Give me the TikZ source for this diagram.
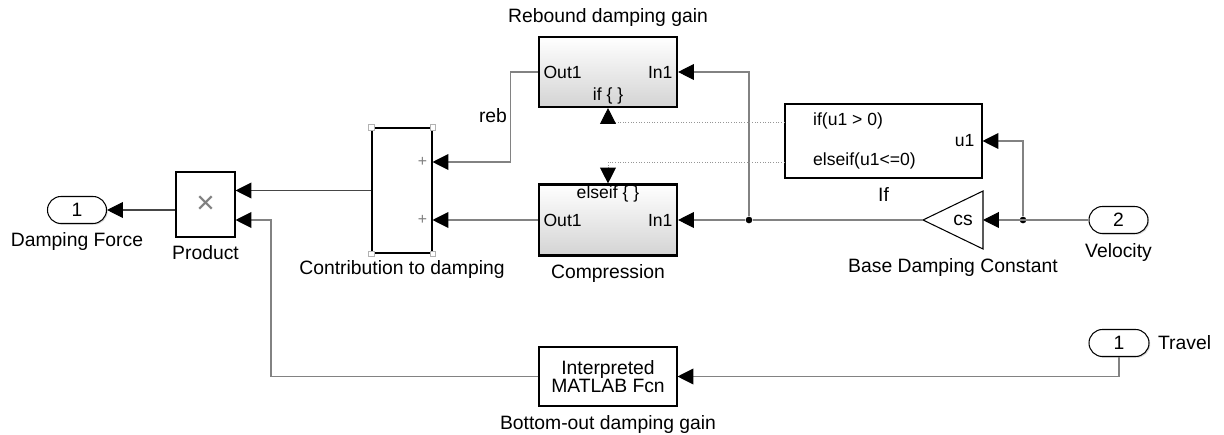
\documentclass[tikz,border=0pt]{standalone}
\usepackage{fontspec}
\setmainfont{Liberation Sans}
\definecolor{SimLine}{RGB}{130,130,130}
\definecolor{SimDark}{RGB}{70,70,70}
\definecolor{SimDot}{RGB}{150,150,150}
\usetikzlibrary{
    arrows.meta,
    positioning,
    shadows,
}

\begin{document}
\begin{tikzpicture}[
        block/.style={rectangle, draw=black, fill=white, line width=0.6pt, inner sep=0pt, drop shadow={shadow xshift=0.7pt, shadow yshift=-0.7pt, opacity=0.3}},
        subsys/.style={rectangle, draw=black, line width=1.2pt, top color=white, bottom color=black!17, minimum width=2.76cm, minimum height=1.42cm, drop shadow={shadow xshift=0.8pt, shadow yshift=-0.8pt, opacity=0.35}},
        pill/.style={rectangle, rounded corners=0.27cm, draw=black, fill=white, line width=0.6pt, minimum width=1.18cm, minimum height=0.54cm, font=\fontsize{11}{12}\selectfont, drop shadow={shadow xshift=0.7pt, shadow yshift=-0.7pt, opacity=0.3}},
        lbl/.style={font=\fontsize{11}{11}\selectfont, inner sep=1pt},
        port/.style={font=\fontsize{10}{11}\selectfont, inner sep=3pt},
        sig/.style={draw=SimLine, line width=0.6pt},
        arr/.style={-{Triangle[length=9pt, width=9pt, color=black]}},
        ctl/.style={draw=SimDot, densely dotted, line width=0.5pt},
        dot/.style={circle, fill=black, inner sep=0pt, minimum size=3.8pt},
        handle/.style={rectangle, draw=black!30, fill=white, line width=0.4pt, minimum size=3pt, inner sep=0pt},
    ]
        \path[use as bounding box, fill=white] (0,0) rectangle (24.48,-8.7);

        \node[pill] (df) at (1.54,-4.2) {1};
        \node[lbl, below=0.13cm of df] {Damping Force};

        \node[block, minimum width=1.18cm, minimum height=1.3cm, font=\fontsize{18}{18}\selectfont, text=black!50] (prod) at (4.11,-4.09) {×};
        \node[lbl, below=0.12cm of prod] {Product};

        \node[block, minimum width=1.2cm, minimum height=2.5cm, drop shadow={opacity=0}] (sum) at (8.04,-3.81) {};
        \foreach \c in {north west, north east, south west, south east}
            \node[handle] at (sum.\c) {};
        \node[font=\fontsize{9}{9}\selectfont, text=black!50] (plusA) at (8.45,-3.24) {+};
        \node[font=\fontsize{9}{9}\selectfont, text=black!50] (plusB) at (8.45,-4.4) {+};
        \node[lbl, below=0.1cm of sum] {Contribution to damping};

        \node[subsys, minimum height=1.4cm] (reb) at (12.16,-1.44) {};
        \node[port, anchor=west] at (reb.west) {Out1};
        \node[port, anchor=east] at (reb.east) {In1};
        \node[port, anchor=south, inner sep=2pt] at (reb.south) {if \{ \}};
        \node[lbl, above=0.14cm of reb] {Rebound damping gain};

        \node[subsys] (comp) at (12.16,-4.4) {};
        \node[port, anchor=west] at (comp.west) {Out1};
        \node[port, anchor=east] at (comp.east) {In1};
        \node[port, anchor=north, inner sep=1pt] at (comp.north) {elseif \{ \}};
        \node[lbl, below=0.12cm of comp] {Compression};

        \node[block, minimum width=3.94cm, minimum height=1.48cm] (ifb) at (17.67,-2.82) {};
        \node[port, anchor=west] at (16.15,-2.42) {if(u1 > 0)};
        \node[port, anchor=west] at (16.15,-3.22) {elseif(u1<=0)};
        \node[port, anchor=east] at (19.6,-2.82) {u1};
        \node[lbl, below=0.14cm of ifb] {If};

        \coordinate (csTip) at (18.46,-4.4);
        \coordinate (csBase) at (19.66,-4.4);
        \draw[line width=0.6pt, fill=white] (csTip) -- (19.66,-3.82) -- (19.66,-4.98) -- cycle;
        \node[lbl] (cs) at (19.26,-4.4) {cs};
        \node[lbl, anchor=north] at (19.06,-5.12) {Base Damping Constant};

        \node[pill] (vel) at (22.37,-4.4) {2};
        \node[lbl, below=0.14cm of vel] {Velocity};

        \node[pill, minimum width=1.2cm] (trav) at (22.38,-6.86) {1};
        \node[lbl, anchor=west] at (23.12,-6.86) {Travel};

        \node[block, minimum width=2.76cm, minimum height=1.18cm, align=center, font=\fontsize{11}{10.5}\selectfont] (fcn) at (12.16,-7.53) {Interpreted\\MATLAB Fcn};
        \node[lbl, below=0.14cm of fcn] {Bottom-out damping gain};

        \node[dot] (j1) at (14.98,-4.4) {};
        \node[dot] (j2) at (20.46,-4.4) {};

        \draw[sig, arr] (vel.west) -- (csBase);
        \draw[sig, arr] (j2) |- (ifb.east);
        \draw[sig] (csTip) -- (j1);
        \draw[sig, arr] (j1) -- (comp.east);
        \draw[sig, arr] (j1) |- (reb.east);
        \draw[ctl, arr] (ifb.west |- 0,-2.44) -| (reb.south);
        \draw[ctl, arr] (ifb.west |- 0,-3.24) -| (comp.north);
        \draw[sig, arr] (reb.west) -- ++(-0.54,0) |- (sum.east |- plusA);
        \node[lbl] at (9.86,-2.32) {reb};
        \draw[sig, arr] (comp.west) -- (sum.east |- plusB);
        \draw[sig, arr, draw=SimDark] (sum.west) -- (prod.east |- sum.west);
        \draw[sig, arr, draw=SimDark] (prod.west |- df.east) -- (df.east);
        \draw[sig, arr] (trav.south) |- (fcn.east);
        \draw[sig, arr] (fcn.west) -- (5.42,-7.53) -- (5.42,-4.4) -- (prod.east |- 0,-4.4);
    \end{tikzpicture}
\end{document}
